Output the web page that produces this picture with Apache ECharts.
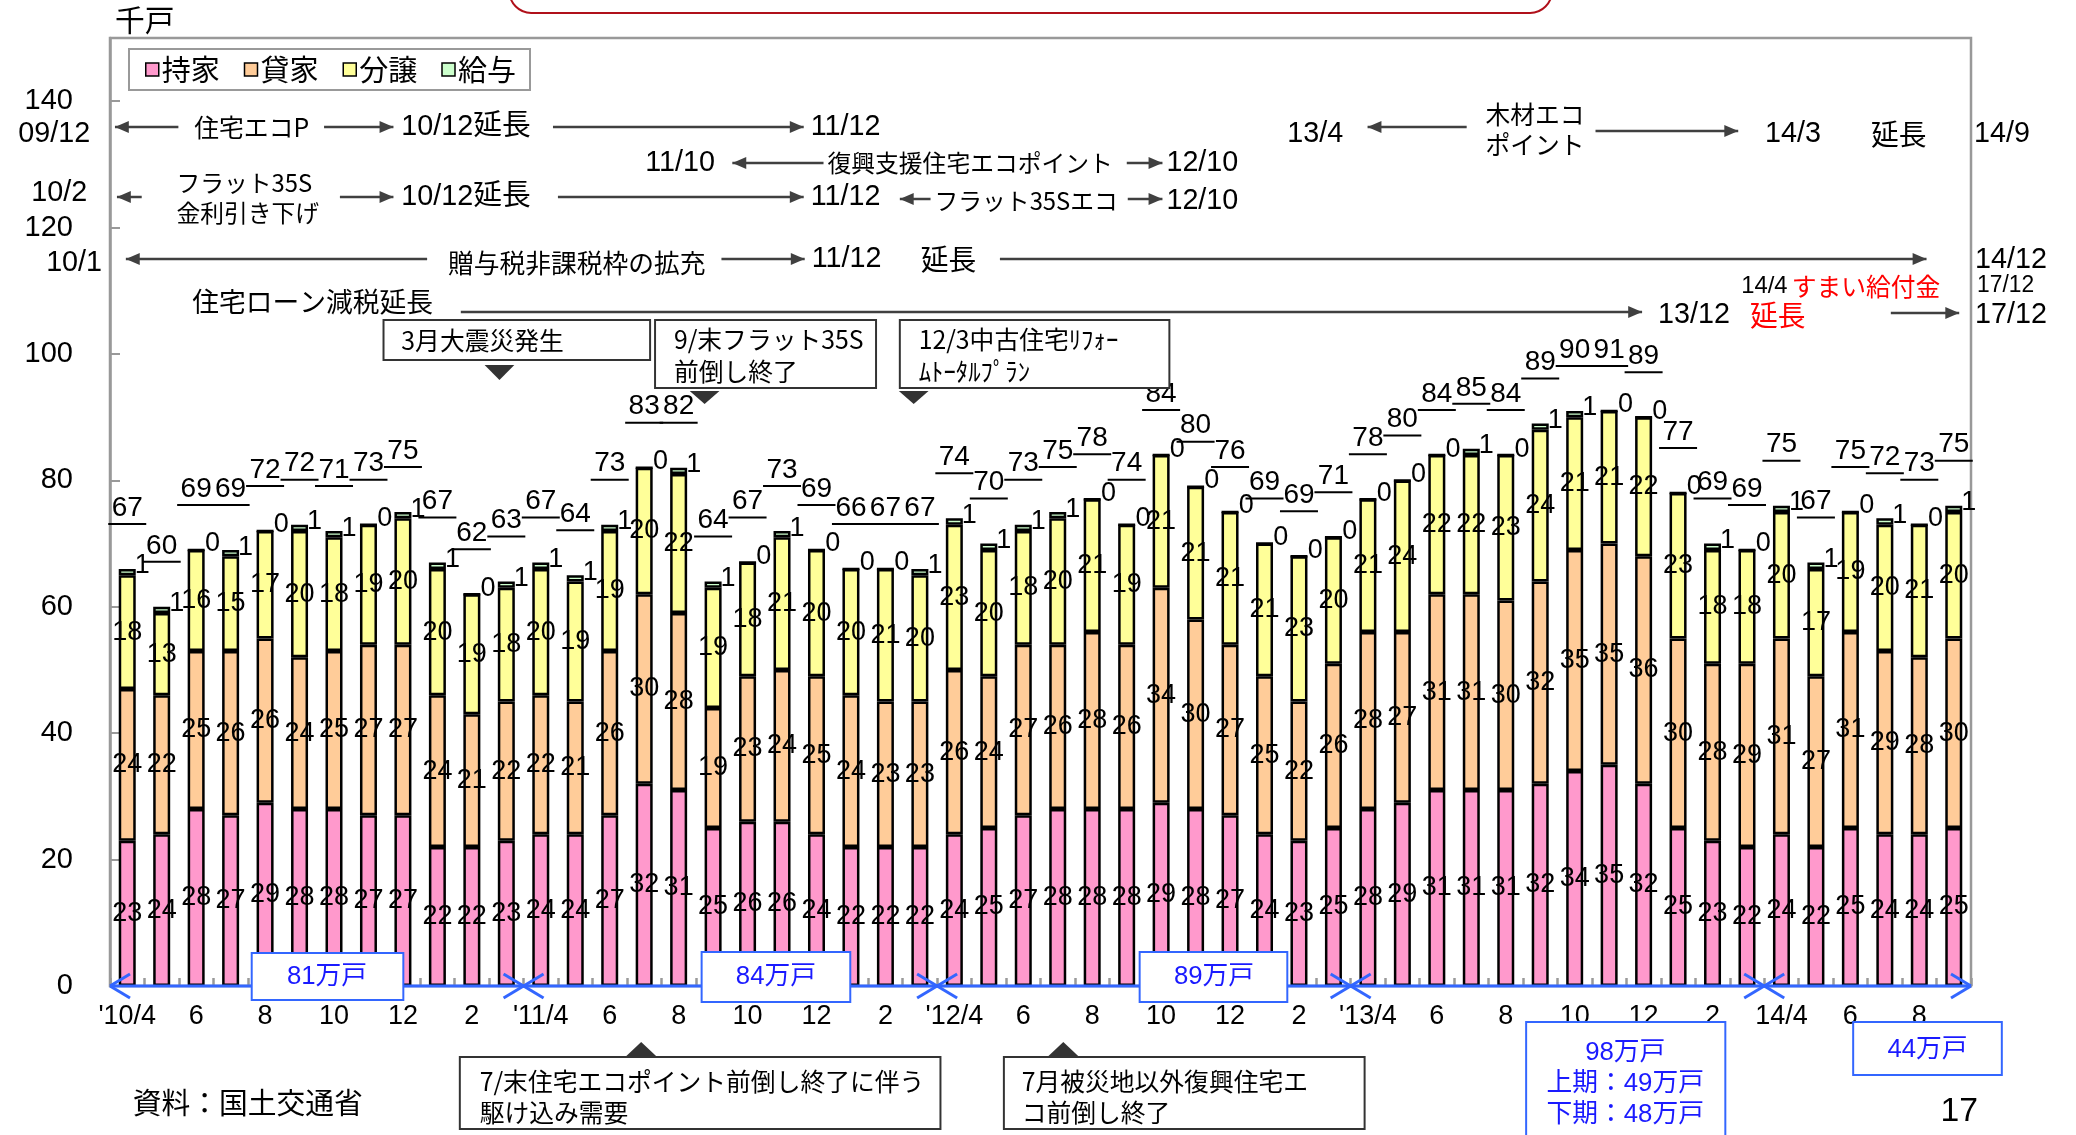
<!DOCTYPE html>
<html><head><meta charset="utf-8">
<script src="https://cdn.jsdelivr.net/npm/echarts/dist/echarts.min.js"></script>
<style>html,body{margin:0;padding:0;background:#fff}#c{width:2076px;height:1135px}</style>
</head><body><div id="c"></div>
<script>
// ---- data (千戸) ----
const categories = [
 '2010/4','2010/5','2010/6','2010/7','2010/8','2010/9','2010/10','2010/11','2010/12',
 '2011/1','2011/2','2011/3','2011/4','2011/5','2011/6','2011/7','2011/8','2011/9','2011/10','2011/11','2011/12',
 '2012/1','2012/2','2012/3','2012/4','2012/5','2012/6','2012/7','2012/8','2012/9','2012/10','2012/11','2012/12',
 '2013/1','2013/2','2013/3','2013/4','2013/5','2013/6','2013/7','2013/8','2013/9','2013/10','2013/11','2013/12',
 '2014/1','2014/2','2014/3','2014/4','2014/5','2014/6','2014/7','2014/8','2014/9'];
const tickLabels = [
 "'10/4",'5','6','7','8','9','10','11','12',
 '1','2','3',"'11/4",'5','6','7','8','9','10','11','12',
 '1','2','3',"'12/4",'5','6','7','8','9','10','11','12',
 '1','2','3',"'13/4",'5','6','7','8','9','10','11','12',
 '1','2','3','14/4','5','6','7','8','9'];
const jisha   = [23,24,28,27,29,28,28,27,27, 22,22,23,24,24,27,32,31,25,26,26,24, 22,22,22,24,25,27,28,28,28,29,28,27, 24,23,25,28,29,31,31,31,32,34,35,32, 25,23,22,24,22,25,24,24,25];
const kashiya = [24,22,25,26,26,24,25,27,27, 24,21,22,22,21,26,30,28,19,23,24,25, 24,23,23,26,24,27,26,28,26,34,30,27, 25,22,26,28,27,31,31,30,32,35,35,36, 30,28,29,31,27,31,29,28,30];
const bunjo   = [18,13,16,15,17,20,18,19,20, 20,19,18,20,19,19,20,22,19,18,21,20, 20,21,20,23,20,18,20,21,19,21,21,21, 21,23,20,21,24,22,22,23,24,21,21,22, 23,18,18,20,17,19,20,21,20];
const kyuyo   = [1,1,0,1,0,1,1,0,1, 1,0,1,1,1,1,0,1,1,0,1,0, 0,0,1,1,1,1,1,0,0,0,0,0, 0,0,0,0,0,0,1,0,1,1,0,0, 0,1,0,1,1,0,1,0,1];
const totals  = [67,60,69,69,72,72,71,73,75, 67,62,63,67,64,73,83,82,64,67,73,69, 66,67,67,74,70,73,75,78,74,84,80,76, 69,69,71,78,80,84,85,84,89,90,91,89, 77,69,69,75,67,75,72,73,75];
const yTicks = [0,20,40,60,80,100,120,140];

const NUM = "'Liberation Sans', Arial, 'Noto Sans CJK JP', sans-serif";
const JP  = "'Noto Sans CJK JP', 'Liberation Sans', sans-serif";
const stackTop = categories.map((_, i) => jisha[i] + kashiya[i] + bunjo[i] + kyuyo[i]);

function bar(name, data, color, pos) {
  return {
    name, type: 'bar', stack: 's', data, barWidth: 17,
    itemStyle: { color, borderColor: '#000', borderWidth: 2.5 },
    label: { show: true, position: pos, distance: 1, offset: pos === 'right' ? [-2, -6] : [0, 0],
      fontSize: 27, fontFamily: NUM, color: '#000' }
  };
}

const chart = echarts.init(document.getElementById('c'));
chart.setOption({
  animation: false,
  backgroundColor: '#fff',
  grid: { left: 110, right: 105, top: 38, bottom: 149, show: true, borderColor: '#999', borderWidth: 2.5, backgroundColor: 'transparent' },
  legend: {
    left: 129, top: 49, padding: [6, 14, 6, 16], itemGap: 24, itemWidth: 13, itemHeight: 13,
    borderColor: '#999', borderWidth: 2, backgroundColor: '#fff', icon: 'rect',
    itemStyle: { borderWidth: 1.5, borderColor: '#000' },
    textStyle: { fontSize: 29, fontFamily: JP, color: '#000', padding: [0, 0, 0, -2] },
    data: ['持家', '貸家', '分譲', '給与']
  },
  xAxis: {
    type: 'category', data: categories,
    axisLine: { lineStyle: { color: '#999', width: 2 } },
    axisTick: { show: true, inside: true, length: 8, interval: 0, lineStyle: { color: '#999', width: 2.5 } },
    axisLabel: { interval: 1, margin: 17, fontSize: 27, fontFamily: NUM, color: '#000',
      formatter: (v, i) => tickLabels[i] }
  },
  yAxis: {
    type: 'value', min: 0, max: 150, interval: 20,
    splitLine: { show: false },
    axisLine: { show: true, lineStyle: { color: '#999', width: 2.5 } },
    axisTick: { show: true, inside: true, length: 10, lineStyle: { color: '#999', width: 2 } },
    axisLabel: { margin: 37, fontSize: 29, fontFamily: NUM, color: '#000',
      formatter: v => yTicks.indexOf(v) >= 0 ? String(v) : '' }
  },
  series: [
    bar('持家', jisha, '#FF99CC', 'inside'),
    bar('貸家', kashiya, '#FFCC99', 'inside'),
    bar('分譲', bunjo, '#FFFF99', 'inside'),
    bar('給与', kyuyo, '#CCFFCC', 'right'),
    {
      name: 'total', type: 'custom', silent: true, z: 10, clip: false,
      data: totals.map((t, i) => [i, t, stackTop[i]]),
      encode: { x: 0, y: 2 },
      renderItem: (params, api) => {
        const p = api.coord([api.value(0), api.value(2)]);
        return { type: 'group', children: [
          { type: 'text', x: p[0], y: p[1] - 47, style: { text: String(api.value(1)), fontSize: 28, fontFamily: NUM, fill: '#000', align: 'center', verticalAlign: 'bottom', textAlign: 'center', textVerticalAlign: 'bottom' } },
          { type: 'line', shape: { x1: p[0] - 19, y1: p[1] - 45, x2: p[0] + 19, y2: p[1] - 45 }, style: { stroke: '#000', lineWidth: 2 } }
        ]};
      }
    }
  ]
});

// ---- annotations (static layout) ----
const G = [], F = [];
const DK = '#404040', BLUE = '#3366ff', BT = '#1a1aff';
function T(x, y, text, size, o = {}) {
  G.push({ type: 'text', z: 102, x, y, style: { text, fontSize: size, fontFamily: o.fam || NUM, fill: o.color || '#000', align: o.align || 'left', verticalAlign: 'middle' } });
}
function L(arr, x1, y1, x2, y2, c = DK, w = 2.5) { arr.push({ type: 'line', z: 100, shape: { x1, y1, x2, y2 }, style: { stroke: c, lineWidth: w } }); }
function A(x1, x2, y, dir) {
  L(G, x1, y, x2, y);
  const x = dir === 'r' ? x2 : x1, s = dir === 'r' ? -1 : 1;
  G.push({ type: 'polygon', z: 100, shape: { points: [[x, y], [x + s * 14, y - 6], [x + s * 14, y + 6]] }, style: { fill: DK } });
}
function R(x, y, w, h, stroke, lw = 2) { G.push({ type: 'rect', z: 101, shape: { x, y, width: w, height: h }, style: { fill: '#fff', stroke, lineWidth: lw } }); }
function Tri(cx, y1, y2) { G.push({ type: 'polygon', z: 101, shape: { points: [[cx - 15, y1], [cx + 15, y1], [cx, y2]] }, style: { fill: '#333' } }); }

// top red frame fragment
G.push({ type: 'rect', z: 100, shape: { x: 514, y: -60, width: 1052, height: 73, r: 22 }, style: { fill: 'none', stroke: '#b0101a', lineWidth: 2 } });
T(116, 20, '千戸', 30, { fam: JP });

// row 1
T(91, 134, '09/12', 29, { align: 'right' });
A(116, 180, 127, 'l'); T(254, 127, '住宅エコP', 25, { fam: JP, align: 'center' });
A(327, 397, 127, 'r'); T(405, 127, '10/12延長', 29);
A(558, 811, 127, 'r'); T(818, 127, '11/12', 29);
T(1299, 134, '13/4', 29); A(1380, 1480, 127, 'l');
T(1499, 114, '木材エコ', 25, { fam: JP }); T(1499, 144, 'ポイント', 25, { fam: JP });
A(1610, 1754, 131, 'r'); T(1781, 134, '14/3', 29); T(1888, 134, '延長', 28, { fam: JP }); T(1992, 134, '14/9', 29);
// row 2
T(651, 163, '11/10', 29); A(739, 831, 163, 'l');
T(835, 163, '復興支援住宅エコポイント', 24, { fam: JP });
A(1137, 1173, 163, 'r'); T(1177, 163, '12/10', 29);
// row 3
T(88, 193, '10/2', 29, { align: 'right' });
A(118, 143, 197, 'l');
T(178, 183, 'フラット35S', 24, { fam: JP }); T(178, 213, '金利引き下げ', 24, { fam: JP });
A(343, 397, 197, 'r'); T(405, 197, '10/12延長', 29);
A(563, 811, 197, 'r'); T(818, 197, '11/12', 29);
A(908, 939, 199, 'l'); T(943, 201, 'フラット35Sエコ', 24, { fam: JP });
A(1138, 1173, 199, 'r'); T(1177, 201, '12/10', 29);
// row 4
T(103, 263, '10/1', 29, { align: 'right' });
A(127, 431, 259, 'l'); T(452, 263, '贈与税非課税枠の拡充', 26, { fam: JP });
A(728, 812, 259, 'r'); T(819, 259, '11/12', 29); T(929, 259, '延長', 28, { fam: JP });
A(1009, 1944, 259, 'r'); T(1993, 260, '14/12', 29);
// row 5
T(194, 302, '住宅ローン減税延長', 27, { fam: JP });
A(465, 1657, 312, 'r'); T(1673, 315, '13/12', 29); T(1766, 315, '延長', 28, { fam: JP, color: '#ff0000' });
T(1757, 286, '14/4', 24); T(1808, 286, 'すまい給付金', 25, { fam: JP, color: '#ff0000' });
A(1908, 1977, 313, 'r'); T(1995, 286, '17/12', 23); T(1993, 315, '17/12', 29);

// callouts top
R(387, 320, 269, 40, '#333'); T(405, 340, '3月大震災発生', 25, { fam: JP }); Tri(504, 365, 380);
R(661, 320, 223, 68, '#333'); T(680, 339, '9/末フラット35S', 25, { fam: JP }); T(680, 371, '前倒し終了', 25, { fam: JP }); Tri(711, 391, 404);
R(908, 320, 272, 68, '#333'); T(927, 339, '12/3中古住宅ﾘﾌｫｰ', 25, { fam: JP }); T(927, 371, 'ﾑﾄｰﾀﾙﾌﾟﾗﾝ', 25, { fam: JP }); Tri(922, 391, 404);
// callouts bottom
R(464, 1057, 485, 72, '#333'); T(484, 1081, '7/末住宅エコポイント前倒し終了に伴う', 25, { fam: JP }); T(484, 1112, '駆け込み需要', 25, { fam: JP });
G.push({ type: 'polygon', z: 101, shape: { points: [[632, 1056], [662, 1056], [647, 1042]] }, style: { fill: '#333' } });
R(1013, 1057, 364, 72, '#333'); T(1031, 1081, '7月被災地以外復興住宅エ', 25, { fam: JP }); T(1031, 1112, 'コ前倒し終了', 25, { fam: JP });
G.push({ type: 'polygon', z: 101, shape: { points: [[1058, 1056], [1088, 1056], [1073, 1042]] }, style: { fill: '#333' } });

// fiscal-year line on the axis (from the axis scale)
const px = i => chart.convertToPixel({ xAxisIndex: 0 }, categories[i]);
const bw = px(1) - px(0);
const edge = k => px(0) - bw / 2 + k * bw;
const y0 = chart.convertToPixel({ yAxisIndex: 0 }, 0);
L(F, edge(0), y0, edge(54), y0, BLUE, 3);
[0, 12, 24, 36, 48].forEach(k => { const x = edge(k); L(F, x, y0, x + 20, y0 - 12, BLUE, 3); L(F, x, y0, x + 20, y0 + 12, BLUE, 3); });
[12, 24, 36, 48, 54].forEach(k => { const x = edge(k); L(F, x - 20, y0 - 12, x, y0, BLUE, 3); L(F, x - 20, y0 + 12, x, y0, BLUE, 3); });

R(254, 953, 153, 47, BLUE); T(330, 977, '81万戸', 26, { color: BT, align: 'center' });
R(708, 952, 150, 50, BLUE); T(783, 977, '84万戸', 26, { color: BT, align: 'center' });
R(1150, 952, 149, 50, BLUE); T(1225, 977, '89万戸', 26, { color: BT, align: 'center' });
R(1540, 1022, 201, 118, BLUE); T(1640, 1053, '98万戸', 26, { color: BT, align: 'center' });
T(1640, 1084, '上期：49万戸', 26, { color: BT, align: 'center' }); T(1640, 1115, '下期：48万戸', 26, { color: BT, align: 'center' });
R(1870, 1022, 150, 53, BLUE); T(1945, 1050, '44万戸', 26, { color: BT, align: 'center' });

T(134, 1103, '資料：国土交通省', 29, { fam: JP });
T(1977, 1112, '17', 34, { align: 'center' });

chart.setOption({ graphic: { elements: [
  { type: 'group', z: 100, children: F },
  { type: 'group', z: 101, scaleX: 0.991, children: G }
] } });
</script></body></html>
